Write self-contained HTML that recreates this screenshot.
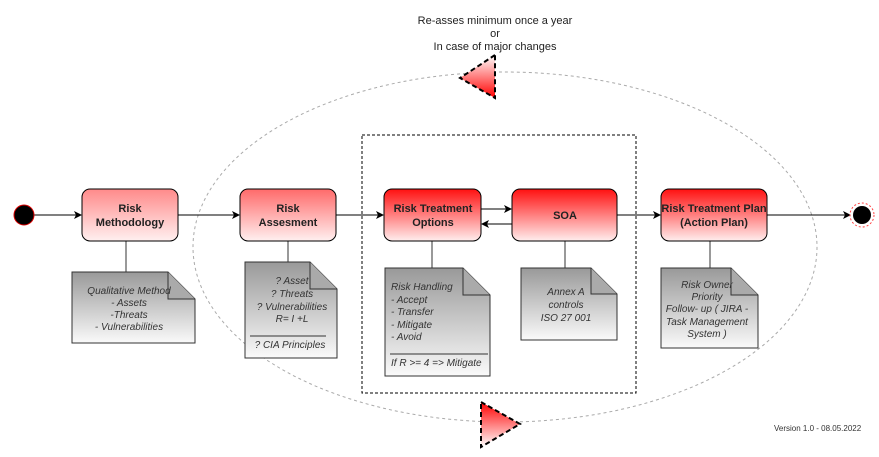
<!DOCTYPE html>
<html><head><style>
body{margin:0;background:#fff;width:879px;height:452px;overflow:hidden}
text{font-family:"Liberation Sans",sans-serif}
</style></head><body>
<svg width="879" height="452" xmlns="http://www.w3.org/2000/svg">
<defs>
<linearGradient id="rp" x1="0" y1="0" x2="0" y2="1"><stop offset="0" stop-color="#ff8a8a"/><stop offset="1" stop-color="#fff0f0"/></linearGradient>
<linearGradient id="rs" x1="0" y1="0" x2="0" y2="1"><stop offset="0" stop-color="#ff1010"/><stop offset="1" stop-color="#ffeeee"/></linearGradient>
<linearGradient id="ra" x1="0" y1="0" x2="0" y2="1"><stop offset="0" stop-color="#ff6a6a"/><stop offset="1" stop-color="#fff0f0"/></linearGradient>
<linearGradient id="gr" x1="0" y1="0" x2="0" y2="1"><stop offset="0" stop-color="#999"/><stop offset="1" stop-color="#fafafa"/></linearGradient>
<linearGradient id="tri" x1="0" y1="0" x2="0" y2="1"><stop offset="0" stop-color="#fff"/><stop offset="1" stop-color="#ff0000"/></linearGradient>
<linearGradient id="tri2" x1="0" y1="0" x2="0" y2="1"><stop offset="0" stop-color="#ff0000"/><stop offset="1" stop-color="#fff"/></linearGradient>
<marker id="ar" markerWidth="8" markerHeight="8" refX="7" refY="4" orient="auto" markerUnits="userSpaceOnUse"><path d="M0,0 L8,4 L0,8 L2,4z" fill="#000"/></marker>
</defs>
<ellipse cx="505" cy="247" rx="312" ry="175" fill="none" stroke="#aaa" stroke-dasharray="3,3"/>
<rect x="362" y="135" width="274" height="258" fill="none" stroke="#000" stroke-dasharray="3,2"/>
<text x="495" y="24" font-size="11" text-anchor="middle" fill="#222">Re-asses minimum once a year</text>
<text x="495" y="37" font-size="11" text-anchor="middle" fill="#222">or</text>
<text x="495" y="50" font-size="11" text-anchor="middle" fill="#222">In case of major changes</text>
<polygon points="495,55 460,78 495,98" fill="url(#tri)" stroke="#000" stroke-width="2" stroke-dasharray="5,3"/>
<polygon points="481,402 520,424 481,447" fill="url(#tri2)" stroke="#000" stroke-width="2" stroke-dasharray="5,3"/>
<!-- connectors -->
<g stroke="#000" stroke-width="1" fill="none">
<line x1="34" y1="215" x2="81" y2="215" marker-end="url(#ar)"/>
<line x1="178" y1="215" x2="239" y2="215" marker-end="url(#ar)"/>
<line x1="336" y1="215" x2="383" y2="215" marker-end="url(#ar)"/>
<line x1="481" y1="209" x2="511" y2="209" marker-end="url(#ar)"/>
<line x1="512" y1="224" x2="482" y2="224" marker-end="url(#ar)"/>
<line x1="617" y1="215" x2="660" y2="215" marker-end="url(#ar)"/>
<line x1="767" y1="215" x2="850" y2="215" marker-end="url(#ar)"/>
</g>
<g stroke="#555" stroke-width="1.2">
<line x1="126" y1="241" x2="126" y2="272"/>
<line x1="288" y1="241" x2="288" y2="262"/>
<line x1="432" y1="241" x2="432" y2="268"/>
<line x1="565" y1="241" x2="565" y2="268"/>
<line x1="710" y1="241" x2="710" y2="268"/>
</g>
<circle cx="24" cy="215" r="10" fill="#000" stroke="#d00" stroke-width="1"/>
<circle cx="862" cy="215" r="9" fill="#000"/>
<circle cx="862" cy="215" r="12" fill="none" stroke="#f44" stroke-dasharray="2,2"/>
<!-- boxes -->
<g stroke="#000" stroke-width="1">
<rect x="82" y="189" width="96" height="52" rx="8" fill="url(#rp)"/>
<rect x="240" y="189" width="96" height="52" rx="8" fill="url(#ra)"/>
<rect x="384" y="189" width="97" height="52" rx="8" fill="url(#rs)"/>
<rect x="512" y="189" width="105" height="52" rx="8" fill="url(#rs)"/>
<rect x="661" y="189" width="106" height="52" rx="8" fill="url(#rs)"/>
</g>
<g font-size="11" font-weight="bold" text-anchor="middle" fill="#222">
<text x="130" y="212">Risk</text><text x="130" y="226">Methodology</text>
<text x="288" y="212">Risk</text><text x="288" y="226">Assesment</text>
<text x="433" y="212">Risk Treatment</text><text x="433" y="226">Options</text>
<text x="565" y="219">SOA</text>
<text x="714" y="212">Risk Treatment Plan</text><text x="714" y="226">(Action Plan)</text>
</g>
<!-- notes -->
<g stroke="#333" stroke-width="1">
<path d="M72,272 H168 L195,299 V343 H72Z" fill="url(#gr)"/><path d="M168,272 V299 H195" fill="#aaa"/>
<path d="M245,262 H310 L337,289 V358 H245Z" fill="url(#gr)"/><path d="M310,262 V289 H337" fill="#aaa"/>
<path d="M385,268 H463 L490,295 V376 H385Z" fill="url(#gr)"/><path d="M463,268 V295 H490" fill="#aaa"/>
<path d="M521,268 H591 L617,294 V340 H521Z" fill="url(#gr)"/><path d="M591,268 V294 H617" fill="#aaa"/>
<path d="M661,268 H731 L758,295 V348 H661Z" fill="url(#gr)"/><path d="M731,268 V295 H758" fill="#aaa"/>
<line x1="250" y1="336" x2="326" y2="336"/>
<line x1="390" y1="354" x2="488" y2="354"/>
</g>
<g font-size="10" font-style="italic" fill="#333">
<g text-anchor="middle">
<text x="129" y="294">Qualitative Method</text><text x="129" y="306">- Assets</text><text x="129" y="318">-Threats</text><text x="129" y="330">- Vulnerabilities</text>
<text x="292" y="284">? Asset</text><text x="292" y="297">? Threats</text><text x="292" y="310">? Vulnerabilities</text><text x="292" y="322">R= I +L</text><text x="290" y="348">? CIA Principles</text>
<text x="566" y="295">Annex A</text><text x="566" y="308">controls</text><text x="566" y="321">ISO 27 001</text>
<text x="707" y="288">Risk Owner</text><text x="707" y="300">Priority</text><text x="707" y="312">Follow- up ( JIRA -</text><text x="707" y="325">Task Management</text><text x="707" y="337">System )</text>
</g>
<text x="391" y="290">Risk Handling</text><text x="391" y="303">- Accept</text><text x="391" y="315">- Transfer</text><text x="391" y="328">- Mitigate</text><text x="391" y="340">- Avoid</text>
<text x="391" y="366">If  R &gt;= 4 =&gt; Mitigate</text>
</g>
<text x="774" y="431" font-size="8" fill="#333">Version 1.0 - 08.05.2022</text>
</svg>
</body></html>
